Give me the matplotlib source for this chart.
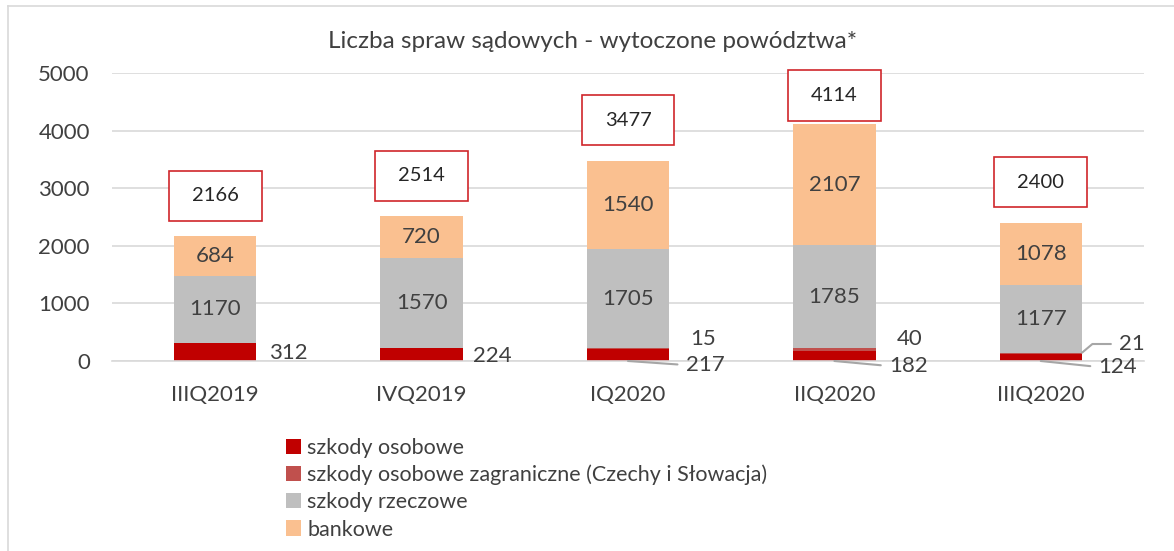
import numpy as np
import matplotlib.pyplot as plt
from matplotlib.patches import Rectangle

plt.rcParams["font.family"] = ["Lato", "DejaVu Sans"]

# Data
quarters = ["IIIQ2019", "IVQ2019", "IQ2020", "IIQ2020", "IIIQ2020"]
osobowe = [312, 224, 217, 182, 124]
osobowe_zagr = [0, 0, 15, 40, 21]
rzeczowe = [1170, 1570, 1705, 1785, 1177]
bankowe = [684, 720, 1540, 2107, 1078]
totals = [2166, 2514, 3477, 4114, 2400]

series_names = [
    "szkody osobowe",
    "szkody osobowe zagraniczne (Czechy i Słowacja)",
    "szkody rzeczowe",
    "bankowe",
]
colors = ["#C00000", "#C0504D", "#BFBFBF", "#FAC090"]

TXT = "#404040"
GRID = "#D9D9D9"
LEAD = "#A6A6A6"
FS = 16

fig = plt.figure(figsize=(11.74, 5.51), dpi=100)
ax = fig.add_axes([112 / 1174, 1 - 361 / 551, 1032 / 1174, 288 / 551])

x = np.arange(len(quarters))
w = 0.40
stack = [osobowe, osobowe_zagr, rzeczowe, bankowe]
bottom = np.zeros(len(quarters))
bars = []
for vals, name, c in zip(stack, series_names, colors):
    b = ax.bar(x, vals, w, bottom=bottom, color=c, label=name, zorder=2)
    bars.append(b)
    bottom += np.array(vals)

# labels inside grey and orange segments
for idx in (2, 3):
    ax.bar_label(bars[idx], labels=[str(v) for v in stack[idx]],
                 label_type="center", fontsize=FS, color=TXT)

# red segment labels: (dx from bar centre, y of text, leader line?)
red_pos = [(0.26, 140, False), (0.25, 87, False), (0.28, -70, True),
           (0.265, -87, True), (0.28, -104, True)]
for i, (dx, yy, lead) in enumerate(red_pos):
    if lead:
        ax.annotate(str(osobowe[i]), xy=(x[i], 0), xytext=(x[i] + dx, yy),
                    fontsize=FS, color=TXT, ha="left", va="center",
                    arrowprops=dict(arrowstyle="-", color=LEAD, lw=1.5,
                                    shrinkA=4, shrinkB=0, relpos=(0, 0.5)),
                    annotation_clip=False)
    else:
        ax.text(x[i] + dx, yy, str(osobowe[i]), fontsize=FS, color=TXT,
                ha="left", va="center")

# foreign segment labels
zagr_pos = [None, None, (0.30, 382, False), (0.30, 385, False), (0.38, 295, True)]
for i, p in enumerate(zagr_pos):
    if p is None:
        continue
    dx, yy, lead = p
    if lead:
        ax.annotate(str(osobowe_zagr[i]), xy=(x[i] + w / 2, osobowe[i] + osobowe_zagr[i]),
                    xytext=(x[i] + dx, yy), fontsize=FS, color=TXT,
                    ha="left", va="center",
                    arrowprops=dict(arrowstyle="-", color=LEAD, lw=1.5,
                                    shrinkA=4, shrinkB=0, relpos=(0, 0.5),
                                    connectionstyle="angle,angleA=0,angleB=40,rad=0"))
    else:
        ax.text(x[i] + dx, yy, str(osobowe_zagr[i]), fontsize=FS, color=TXT,
                ha="left", va="center")

# total boxes above bars
bw, bh = 0.45, 870
for i, t in enumerate(totals):
    yc = min(t + 700, 4610)
    ax.add_patch(Rectangle((x[i] - bw / 2, yc - bh / 2), bw, bh, facecolor="white",
                           edgecolor="#D0262B", lw=1.2, zorder=3, clip_on=False))
    ax.text(x[i], yc, str(t), ha="center", va="center", fontsize=14.5,
            color="#262626", zorder=4)

ax.set_xlim(-0.5, len(quarters) - 0.5)
ax.set_ylim(0, 5000)
ax.set_yticks(range(0, 5001, 1000))
ax.set_xticks(x)
ax.set_xticklabels(quarters)
ax.grid(axis="y", color=GRID, lw=1.2, zorder=0)
for s in ("top", "right", "left"):
    ax.spines[s].set_visible(False)
ax.spines["bottom"].set_color(GRID)
ax.spines["bottom"].set_linewidth(1.2)
ax.tick_params(axis="both", length=0, labelsize=FS, labelcolor=TXT)
ax.tick_params(axis="x", pad=17)
ax.tick_params(axis="y", pad=16)

fig.text(593 / 1174, 1 - 42 / 551, "Liczba spraw sądowych - wytoczone powództwa*",
         ha="center", va="center", fontsize=17.5, color=TXT)

fig.legend(handles=bars, labels=series_names, loc="upper left",
           bbox_to_anchor=(277 / 1174, 1 - 429 / 551), frameon=False,
           fontsize=15.5, labelcolor=TXT, handlelength=0.7, handleheight=0.7,
           handletextpad=0.3, labelspacing=0.33, borderaxespad=0)

# thin frame along left and top edges
fig.add_artist(plt.Line2D([8 / 1174, 8 / 1174], [0, 1 - 6 / 551],
                          transform=fig.transFigure, color=GRID, lw=1.2))
fig.add_artist(plt.Line2D([8 / 1174, 1], [1 - 6 / 551, 1 - 6 / 551],
                          transform=fig.transFigure, color=GRID, lw=1.2))

fig.savefig("out.png", dpi=100)
